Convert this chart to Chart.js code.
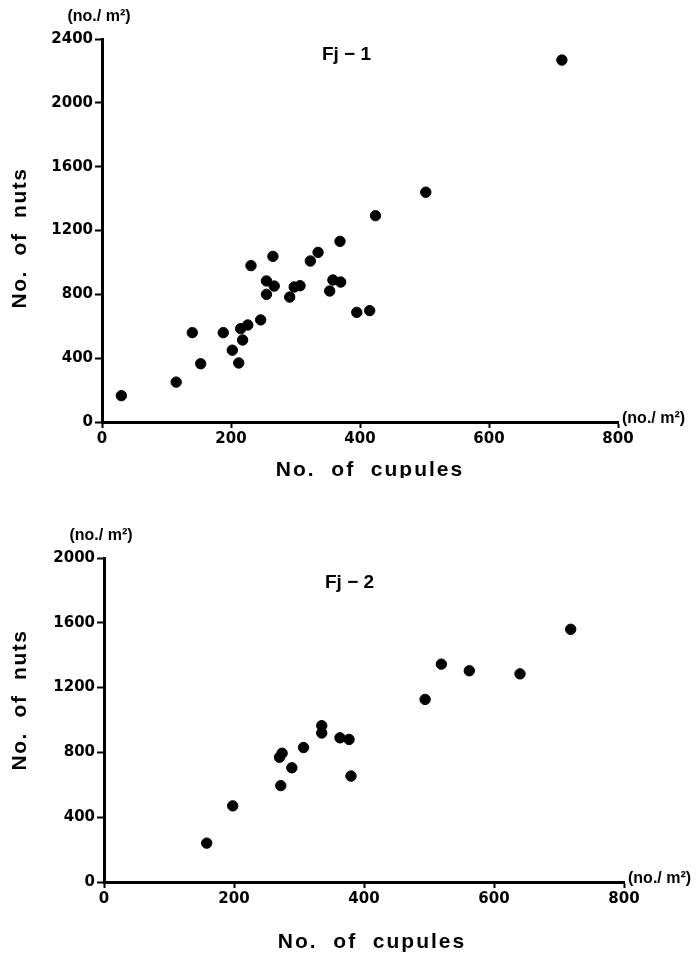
<!DOCTYPE html>
<html>
<head>
<meta charset="utf-8">
<script src="https://cdn.jsdelivr.net/npm/chart.js@4/dist/chart.umd.min.js"></script>
<style>
  html, body { margin: 0; padding: 0; background: #fff; }
  .wrap { position: absolute; left: 0; width: 698px; }
  #w1 { top: 0; height: 478px; }
  #w2 { top: 478px; height: 477px; }
</style>
</head>
<body>
<div class="wrap" id="w1"><canvas id="c1" width="698" height="478"></canvas></div>
<div class="wrap" id="w2"><canvas id="c2" width="698" height="477"></canvas></div>
<script>
// ---- Data ----
const fj1Cupules = [30, 115, 140, 153, 188, 202, 212, 218, 215, 226, 231, 246, 255, 255, 267, 265, 291, 298, 307, 323, 335, 353, 358, 370, 369, 424, 395, 415, 502, 713];
const fj1Nuts    = [165, 250, 560, 365, 560, 450, 370, 514, 585, 608, 980, 640, 800, 884, 852, 1038, 783, 846, 854, 1009, 1063, 821, 890, 877, 1132, 1293, 687, 698, 1440, 2268];

const fj2Cupules = [158, 198, 272, 270, 274, 289, 307, 335, 335, 363, 377, 380, 494, 519, 562, 640, 718];
const fj2Nuts    = [240, 470, 595, 770, 795, 705, 830, 965, 920, 890, 880, 654, 1127, 1345, 1304, 1285, 1560];

const xTicks = [0, 200, 400, 600, 800];
const fj1YTicks = [0, 400, 800, 1200, 1600, 2000, 2400];
const fj2YTicks = [0, 400, 800, 1200, 1600, 2000];

const panelLabels = ['Fj \u2212 1', 'Fj \u2212 2'];
const unitLabel = '(no./ m\u00B2)';
const xTitle = 'No.  of  cupules';
const yTitle = 'No.  of  nuts';

function toPoints(xs, ys) { return xs.map((x, i) => ({ x: x, y: ys[i] })); }

function makeChart(canvasId, xs, ys, yTicks, cfg) {
  const W = 698, H = cfg.H;
  const textPlugin = {
    id: 'extraText',
    afterDraw(chart) {
      const ctx = chart.ctx;
      const a = chart.chartArea;
      const xs_ = chart.scales.x, ys_ = chart.scales.y;
      ctx.save();
      ctx.fillStyle = '#000';
      // unit label above y axis
      ctx.font = 'bold 16px "Liberation Sans", Arial, sans-serif';
      ctx.textAlign = 'center';
      ctx.textBaseline = 'middle';
      ctx.fillText(unitLabel, a.left - 3, a.top - 22);
      // unit label at right end of x axis
      ctx.textAlign = 'left';
      ctx.fillText(unitLabel, a.right + 4, a.bottom - 3);
      // panel label
      ctx.font = 'bold 19px "Liberation Sans", Arial, sans-serif';
      ctx.textAlign = 'left';
      ctx.fillText(cfg.panel, xs_.getPixelForValue(cfg.panelX), ys_.getPixelForValue(cfg.panelY));
      // x title
      ctx.font = 'bold 21px "Liberation Sans", Arial, sans-serif';
      ctx.letterSpacing = '2px';
      ctx.textAlign = 'center';
      ctx.fillText(xTitle, cfg.xTitleX, cfg.xTitleY);
      // y title (rotated)
      ctx.translate(cfg.yTitleX, cfg.yTitleY);
      ctx.rotate(-Math.PI / 2);
      ctx.letterSpacing = '1.5px';
      ctx.fillText(yTitle, 0, 0);
      ctx.restore();
    }
  };
  const tickFont = { family: '"DejaVu Sans", sans-serif', weight: 'bold', size: 15 };
  return new Chart(document.getElementById(canvasId), {
    type: 'scatter',
    data: {
      datasets: [{
        data: toPoints(xs, ys),
        backgroundColor: '#000',
        borderColor: '#000',
        pointRadius: 5.2,
        pointHoverRadius: 5.2,
        clip: false
      }]
    },
    options: {
      responsive: false,
      animation: false,
      events: [],
      layout: { padding: { left: 0, top: cfg.top, right: W - cfg.right, bottom: 0 } },
      plugins: { legend: { display: false }, tooltip: { enabled: false }, title: { display: false } },
      scales: {
        x: {
          type: 'linear',
          min: 0, max: 800,
          afterFit(s) { s.height = H - cfg.bottom; },
          afterBuildTicks(s) { s.ticks = xTicks.map(v => ({ value: v })); },
          grid: { display: true, drawOnChartArea: false, drawTicks: true, tickLength: 6, tickWidth: 2, tickColor: '#000' },
          border: { display: true, color: '#000', width: 3 },
          ticks: { color: '#000', padding: 2, maxRotation: 0, font: tickFont, callback: v => String(v) }
        },
        y: {
          type: 'linear',
          min: 0, max: yTicks[yTicks.length - 1],
          afterFit(s) { s.width = cfg.left; },
          afterBuildTicks(s) { s.ticks = yTicks.map(v => ({ value: v })); },
          grid: { display: true, drawOnChartArea: false, drawTicks: true, tickLength: 7, tickWidth: 2, tickColor: '#000' },
          border: { display: true, color: '#000', width: 3 },
          ticks: { color: '#000', padding: 2, font: tickFont, callback: v => String(v) }
        }
      }
    },
    plugins: [textPlugin]
  });
}

makeChart('c1', fj1Cupules, fj1Nuts, fj1YTicks, {
  H: 478, left: 102, right: 618, top: 39, bottom: 422,
  panel: panelLabels[0], panelX: 341, panelY: 2300,
  xTitleX: 370, xTitleY: 470, yTitleX: 20, yTitleY: 238
});
makeChart('c2', fj2Cupules, fj2Nuts, fj2YTicks, {
  H: 477, left: 104, right: 624, top: 80, bottom: 404,
  panel: panelLabels[1], panelX: 340, panelY: 1845,
  xTitleX: 372, xTitleY: 464, yTitleX: 20, yTitleY: 222
});
</script>
</body>
</html>
